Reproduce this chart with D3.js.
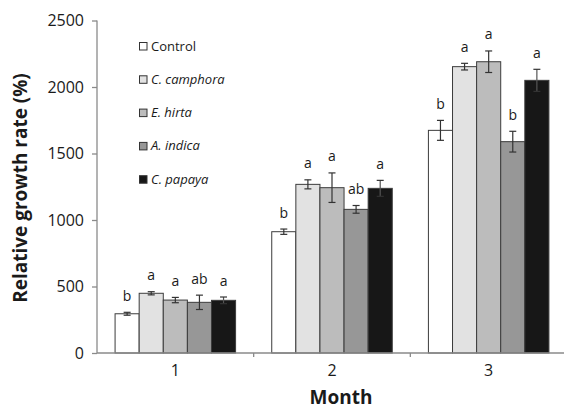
<!DOCTYPE html>
<html>
<head>
<meta charset="utf-8">
<script src="https://d3js.org/d3.v7.min.js"></script>
<style>
  body{ margin:0; background:#fff; }
  svg text{ font-family:"Open Sans", sans-serif; fill:#1a1a1a; }
  .axis path, .axis line{ stroke:#8a8a8a; stroke-width:1.3; }
  .axis text{ font-size:16px; }
  .bar{ stroke:#3c3c3c; stroke-width:1; }
  .err{ stroke:#333; stroke-width:1.2; }
  .sig{ font-size:14px; text-anchor:middle; }
  .key_label{ font-size:13px; }
</style>
</head>
<body>
<div id="chart"></div>
<script>

// months and treatments
var months = ["1", "2", "3"];
var treatments = ["Control", "C. camphora", "E. hirta", "A. indica", "C. papaya"];
var fills = ["#ffffff", "#e2e2e2", "#bcbcbc", "#979797", "#171717"];
var yTicks = [0, 500, 1000, 1500, 2000, 2500];

// relative growth rate (%) per month
var rgrControl  = [295, 912, 1674];
var rgrCamphora = [449, 1268, 2153];
var rgrHirta    = [398, 1243, 2190];
var rgrIndica   = [381, 1080, 1589];
var rgrPapaya   = [396, 1238, 2050];

// standard errors
var seControl  = [11, 20, 75];
var seCamphora = [12, 34, 25];
var seHirta    = [20, 111, 81];
var seIndica   = [54, 29, 78];
var sePapaya   = [25, 60, 83];

// significance letters
var letControl  = ["b", "b", "b"];
var letCamphora = ["a", "a", "a"];
var letHirta    = ["a", "a", "a"];
var letIndica   = ["ab", "ab", "b"];
var letPapaya   = ["a", "a", "a"];

var values = [rgrControl, rgrCamphora, rgrHirta, rgrIndica, rgrPapaya];
var errors = [seControl, seCamphora, seHirta, seIndica, sePapaya];
var letters = [letControl, letCamphora, letHirta, letIndica, letPapaya];

var rows = [];
months.forEach(function(m, mi){
  treatments.forEach(function(t, ti){
    rows.push({month:m, treatment:t, value:values[ti][mi], se:errors[ti][mi],
               letter:letters[ti][mi], fill:fills[ti]});
  });
});

var width = 564, height = 409;

var svg = d3.select("#chart").append("svg")
    .attr("width", width)
    .attr("height", height);

var x0 = d3.scaleBand()
    .domain(months)
    .range([97, 567])
    .paddingInner(0)
    .paddingOuter(0);

var x1 = d3.scaleBand()
    .domain(treatments)
    .range([0, x0.bandwidth()])
    .paddingInner(0)
    .paddingOuter(0.75);

var y = d3.scaleLinear()
    .domain([0, 2500])
    .range([353, 20.5]);

// bars
svg.append("g").selectAll("rect")
    .data(rows)
  .enter().append("rect")
    .attr("class", "bar")
    .attr("x", function(d){ return x0(d.month) + x1(d.treatment); })
    .attr("y", function(d){ return y(d.value); })
    .attr("width", x1.bandwidth())
    .attr("height", function(d){ return y(0) - y(d.value); })
    .attr("fill", function(d){ return d.fill; });

// error bars
var eb = svg.append("g").selectAll("g")
    .data(rows)
  .enter().append("g")
    .attr("class", "err")
    .attr("transform", function(d){ return "translate(" + (x0(d.month) + x1(d.treatment) + x1.bandwidth()/2) + ",0)"; });

eb.append("line")
    .attr("y1", function(d){ return y(d.value + d.se); })
    .attr("y2", function(d){ return y(d.value - d.se); })
    .attr("stroke", function(d){ return d.fill == "#171717" ? "#555" : "#333"; });
eb.append("line")
    .attr("x1", -3.5).attr("x2", 3.5)
    .attr("y1", function(d){ return y(d.value + d.se); })
    .attr("y2", function(d){ return y(d.value + d.se); });
eb.append("line")
    .attr("x1", -3.5).attr("x2", 3.5)
    .attr("y1", function(d){ return y(d.value - d.se); })
    .attr("y2", function(d){ return y(d.value - d.se); });

// letters
svg.append("g").selectAll("text")
    .data(rows)
  .enter().append("text")
    .attr("class", "sig")
    .attr("x", function(d){ return x0(d.month) + x1(d.treatment) + x1.bandwidth()/2; })
    .attr("y", function(d){ return y(d.value + d.se) - 11.5; })
    .text(function(d){ return d.letter; });

// axes
var yAxis = d3.axisLeft(y).tickValues(yTicks).tickFormat(d3.format("d")).tickSize(5).tickPadding(8);
svg.append("g")
    .attr("class", "y axis")
    .attr("transform", "translate(97,0)")
    .call(yAxis)
    .call(function(g){ g.select(".domain").attr("d", "M0,20.5V353"); });

var xAxis = svg.append("g")
    .attr("class", "x axis")
    .attr("transform", "translate(0,353)");
xAxis.append("line")
    .attr("x1", 97).attr("x2", 567);
xAxis.selectAll(".sep")
    .data(months.slice(1))
  .enter().append("line")
    .attr("x1", function(d){ return x0(d); })
    .attr("x2", function(d){ return x0(d); })
    .attr("y1", 0).attr("y2", 4);
xAxis.selectAll("text")
    .data(months)
  .enter().append("text")
    .attr("x", function(d){ return x0(d) + x0.bandwidth()/2; })
    .attr("y", 23)
    .attr("text-anchor", "middle")
    .text(function(d){ return d; });

// axis titles
svg.append("text")
    .attr("transform", "translate(26.5,188) rotate(-90)")
    .attr("text-anchor", "middle")
    .style("font-size", "19px")
    .style("font-weight", "bold")
    .text("Relative growth rate (%)");

svg.append("text")
    .attr("x", 341)
    .attr("y", 404)
    .attr("text-anchor", "middle")
    .style("font-size", "19px")
    .style("font-weight", "bold")
    .text("Month");

// legend
var key = svg.append("g").selectAll("g")
    .data(treatments)
  .enter().append("g")
    .attr("transform", function(d, i){ return "translate(139," + (46 + i*33.3) + ")"; });

key.append("rect")
    .attr("x", 0.5).attr("y", -3.5)
    .attr("width", 7.5).attr("height", 7.5)
    .attr("fill", function(d, i){ return fills[i]; })
    .attr("stroke", "#333")
    .attr("stroke-width", 1);

key.append("text")
    .attr("class", "key_label")
    .attr("x", 12)
    .attr("y", 4.5)
    .style("font-style", function(d, i){ return i == 0 ? "normal" : "italic"; })
    .text(function(d){ return d; });

</script>
</body>
</html>
